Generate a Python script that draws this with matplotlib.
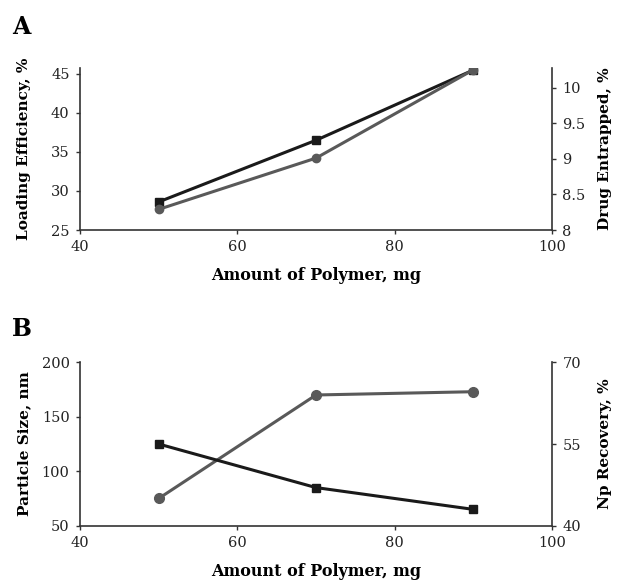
import matplotlib
matplotlib.use('Agg')
import matplotlib.pyplot as plt

plt.rcParams['font.family'] = ['DejaVu Serif']

polymer = [50, 70, 90]

# panel A
loading_eff = [28.6, 36.5, 45.5]      # black squares, left axis
drug_entrapped = [8.29, 9.01, 10.25]  # gray circles, right axis

# panel B
particle_size = [75, 170, 173]        # gray circles, left axis
np_recovery = [55, 47, 43]            # black squares, right axis

black = '#1a1a1a'
gray = '#595959'
spine_col = '#333333'

fig = plt.figure(figsize=(6.17, 5.82), dpi=100)


def style(ax, right=False):
    ax.spines['top'].set_visible(False)
    if not right:
        ax.spines['right'].set_visible(False)
    else:
        ax.spines['left'].set_visible(False)
        ax.spines['bottom'].set_visible(False)
    for s in ax.spines.values():
        s.set_color(spine_col)
        s.set_linewidth(1.2)
    ax.tick_params(direction='out', length=3, width=1, colors=spine_col,
                   labelsize=10.5, labelcolor='#222222', pad=4.5)


# ---- A ----
axA = fig.add_axes([0.1297, 0.6048, 0.7649, 0.2789])
axA.plot(polymer, loading_eff, color=black, lw=2.2, marker='s', ms=6, zorder=3)
axA.set_xlim(40, 100)
axA.set_ylim(25, 45.8)
axA.set_xticks([40, 60, 80, 100])
axA.set_yticks([25, 30, 35, 40, 45])
axA.set_xlabel('Amount of Polymer, mg', fontsize=11.5, fontweight='bold')
axA.set_ylabel('Loading Efficiency, %', fontsize=11, fontweight='bold')
axA.xaxis.set_label_coords(0.5, -0.228)
axA.yaxis.set_label_coords(-0.104, 0.5)
style(axA)

axA2 = axA.twinx()
axA2.plot(polymer, drug_entrapped, color=gray, lw=2.2, marker='o', ms=6, zorder=2)
axA2.set_ylim(8, 10.28)
axA2.set_yticks([8, 8.5, 9, 9.5, 10])
axA2.set_yticklabels(['8', '8.5', '9', '9.5', '10'])
axA2.set_ylabel('Drug Entrapped, %', fontsize=11, fontweight='bold')
axA2.yaxis.set_label_coords(1.097, 0.5)
style(axA2, right=True)
fig.text(0.02, 0.954, 'A', fontsize=17, fontweight='bold', va='center')

# ---- B ----
axB = fig.add_axes([0.1297, 0.0967, 0.7649, 0.2808])
axB.plot(polymer, particle_size, color=gray, lw=2.2, marker='o', ms=7, zorder=2)
axB.set_xlim(40, 100)
axB.set_ylim(50, 200)
axB.set_xticks([40, 60, 80, 100])
axB.set_yticks([50, 100, 150, 200])
axB.set_xlabel('Amount of Polymer, mg', fontsize=11.5, fontweight='bold')
axB.set_ylabel('Particle Size, nm', fontsize=11, fontweight='bold')
axB.xaxis.set_label_coords(0.5, -0.228)
axB.yaxis.set_label_coords(-0.104, 0.5)
style(axB)

axB2 = axB.twinx()
axB2.plot(polymer, np_recovery, color=black, lw=2.2, marker='s', ms=6, zorder=3)
axB2.set_ylim(40, 70)
axB2.set_yticks([40, 55, 70])
axB2.set_ylabel('Np Recovery, %', fontsize=11, fontweight='bold')
axB2.yaxis.set_label_coords(1.097, 0.5)
style(axB2, right=True)
fig.text(0.02, 0.435, 'B', fontsize=17, fontweight='bold', va='center')

fig.savefig('out.png', dpi=100)
